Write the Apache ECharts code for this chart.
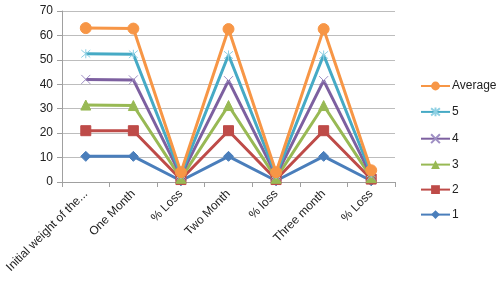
<!DOCTYPE html>
<html>
<head>
<meta charset="utf-8">
<script src="https://cdn.jsdelivr.net/npm/echarts@6/dist/echarts.min.js"></script>
<style>
  html, body { margin: 0; padding: 0; background: #fff; }
  #chart { width: 500px; height: 288px; }
</style>
</head>
<body>
<div id="chart"></div>
<script>
const categories = ['Initial weight of the...', 'One Month', '% Loss', 'Two Month', '% loss', 'Three month', '% Loss'];
const s1 = [10.5, 10.5, 0.5, 10.5, 0.5, 10.5, 0.5];
const s2 = [21, 21, 1, 21, 1, 21, 1.2];
const s3 = [31.5, 31.3, 1.5, 31.3, 1.5, 31.3, 1.8];
const s4 = [42, 41.8, 2.5, 41.5, 2.5, 41.5, 2.5];
const s5 = [52.5, 52.3, 3, 52, 3, 52, 3.5];
const average = [63, 62.8, 4, 62.6, 4, 62.6, 4.8];
const legendOrder = ['Average', '5', '4', '3', '2', '1'];

const xPath = 'path://M0,0L10,10M10,0L0,10';
const starPath = 'path://M0,0L10,10M10,0L0,10M5,-1L5,11';

function line(name, data, color, symbol, size, extra) {
  return Object.assign({
    name: name,
    type: 'line',
    data: data,
    symbol: symbol,
    symbolSize: size,
    lineStyle: { color: color, width: 3 },
    itemStyle: { color: color, borderColor: color },
    emphasis: { disabled: true },
    animation: false
  }, extra || {});
}

const series = [
  line('1', s1, '#4A7EBB', 'diamond', 10),
  line('2', s2, '#BE4B48', 'rect', 10),
  line('3', s3, '#98B954', 'triangle', 10),
  line('4', s4, '#7D60A0', xPath, 9, { itemStyle: { color: 'none', borderColor: '#9f8fc4', borderWidth: 1 } }),
  line('5', s5, '#46AAC5', starPath, 9, { itemStyle: { color: 'none', borderColor: '#8fd0e3', borderWidth: 1 } }),
  line('Average', average, '#F79646', 'circle', 11)
];

const chart = echarts.init(document.getElementById('chart'));
chart.setOption({
  animation: false,
  textStyle: { fontFamily: 'Liberation Sans' },
  grid: { left: 62, right: 105, top: 11, bottom: 106 },
  legend: {
    data: legendOrder,
    orient: 'vertical',
    left: 415,
    top: 75,
    itemWidth: 29,
    itemHeight: 11,
    itemGap: 13,
    textStyle: { fontSize: 12, color: '#222', padding: [0, 0, 0, -3] }
  },
  xAxis: {
    type: 'category',
    data: categories,
    boundaryGap: true,
    axisLine: { lineStyle: { color: '#a0a0a0' } },
    axisTick: { show: true, length: 5, lineStyle: { color: '#a0a0a0' } },
    axisLabel: { rotate: 45, fontSize: 12, color: '#222', interval: 0, margin: 10 }
  },
  yAxis: {
    type: 'value',
    min: 0,
    max: 70,
    interval: 10,
    axisLine: { show: true, lineStyle: { color: '#a0a0a0' } },
    axisTick: { show: true, length: 5, inside: false, lineStyle: { color: '#a0a0a0' } },
    splitLine: { lineStyle: { color: '#bdbdbd' } },
    axisLabel: { fontSize: 12, color: '#222', margin: 9 }
  },
  series: series
});
</script>
</body>
</html>
